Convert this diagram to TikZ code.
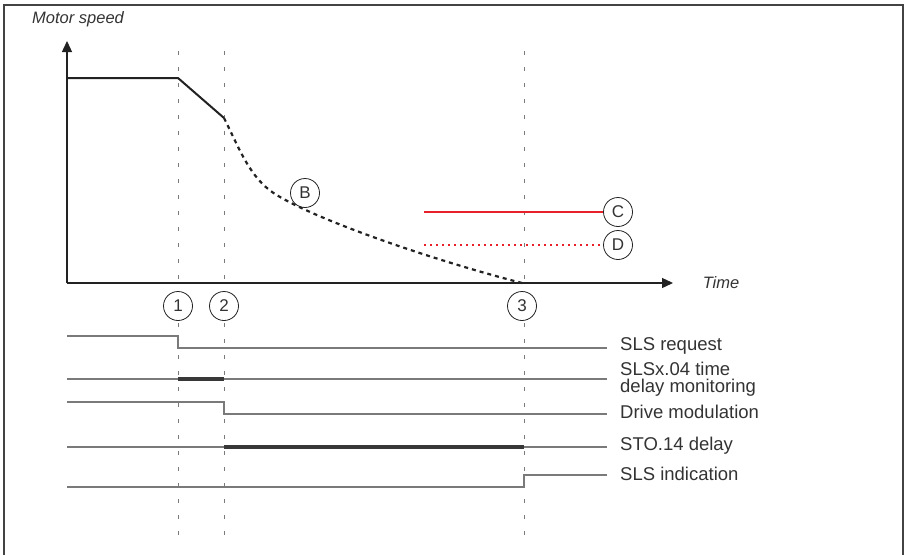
\documentclass[tikz,border=0pt]{standalone}
\usepackage{fontspec}
\setmainfont{Liberation Sans}
\usetikzlibrary{arrows.meta}
\definecolor{txt}{HTML}{333333}
\definecolor{sig}{HTML}{7A7A7A}
\definecolor{ax}{HTML}{222222}
\definecolor{redl}{HTML}{E8202A}
\begin{document}
\begin{tikzpicture}[x=1pt,y=-1pt,
  lbl/.style={anchor=west,inner sep=0pt,text=txt,font=\fontsize{18.5}{17}\selectfont,align=left},
  axlbl/.style={inner sep=0pt,text=txt,font=\fontsize{16.5}{18}\selectfont\itshape},
  circ/.style={circle,draw=ax,line width=0.8pt,minimum size=29pt,inner sep=0pt,text=txt,font=\fontsize{17}{18}\selectfont},
  sigline/.style={draw=sig,line width=1.6pt},
  thick sig/.style={draw=ax!90,line width=4pt},
  vdash/.style={draw=sig,line width=1pt,dash pattern=on 4pt off 12pt},
  axis/.style={draw=ax,line width=1.3pt,-{Triangle[length=11pt,width=10pt]}}
]
\useasboundingbox (0,0) rectangle (904,554);
% frame
\draw[draw=ax!85,line width=1.6pt] (4,560) -- (4,5) -- (903,5) -- (903,560);
% labels
\node[axlbl,anchor=west] (ms) at (32,19) {Motor speed};
\node[axlbl] (time) at (721,283) {Time};
% axes
\coordinate (o) at (67,283);
\coordinate (ytip) at (67,41);
\coordinate (xtip) at (673,283);
\draw[axis] (o) -- (ytip);
\draw[axis] (o) -- (xtip);
% vertical dashed lines
\foreach \n/\x in {t1/178,t2/224,t3/524}{
  \coordinate (\n top) at (\x,51);
  \coordinate (\n bot) at (\x,538);
}
\draw[vdash] (t1top) -- (t1bot);
\draw[vdash] (t2top) -- (t2bot);
\draw[vdash] (t3top) -- (t3bot);
% speed curve
\coordinate (s0) at (67,78);
\coordinate (s1) at (178,78);
\coordinate (s2) at (224,118);
\coordinate (s3) at (522,283);
\draw[draw=ax,line width=2pt] (s0) -- (s1) -- (s2);
\draw[draw=ax,line width=2.2pt,dash pattern=on 4pt off 4pt]
  (s2) .. controls (240,150) and (250,178) .. (275,194)
       .. controls (320,222) and (440,262) .. (s3);
% circled markers
\node[circ,fill=white] (c1) at (178,306) {1};
\node[circ,fill=white] (c2) at (224,306) {2};
\node[circ,fill=white] (c3) at (522,306) {3};
\node[circ] (cB) at (305,193) {B};
\node[circ] (cC) at (618,212) {C};
\node[circ] (cD) at (618,245) {D};
% C and D lines
\coordinate (cl) at (424,212);
\coordinate (dl) at (424,245);
\draw[draw=redl,line width=2pt] (cl) -- (cC.west);
\draw[draw=redl,line width=2pt,dash pattern=on 2pt off 4pt] (dl) -- (cD.west);
% signals
\draw[sigline] (67,336) -- (178,336) -- (178,348) -- (607,348);
\node[lbl] (l1) at (620,346) {SLS request};
\draw[sigline] (67,379) -- (607,379);
\draw[thick sig] (178,379) -- (224,379);
\node[lbl] (l2) at (620,379) {SLSx.04 time\\delay monitoring};
\draw[sigline] (67,402) -- (224,402) -- (224,414) -- (607,414);
\node[lbl] (l3) at (620,412) {Drive modulation};
\draw[sigline] (67,447) -- (607,447);
\draw[thick sig] (224,447) -- (524,447);
\node[lbl] (l4) at (620,446) {STO.14 delay};
\draw[sigline] (67,487) -- (524,487) -- (524,475) -- (607,475);
\node[lbl] (l5) at (620,474) {SLS indication};
\end{tikzpicture}
\end{document}
